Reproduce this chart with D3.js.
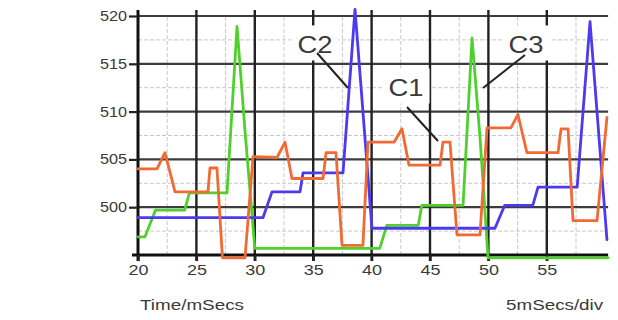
<!DOCTYPE html>
<html><head><meta charset="utf-8">
<script src="https://cdn.jsdelivr.net/npm/d3@7"></script>
<style>
html,body{margin:0;padding:0;background:#fff;}
svg{display:block;}
text{font-family:"Liberation Sans",Arial,sans-serif;fill:#3a3a3a;}
</style></head>
<body><svg id="c" width="618" height="320"></svg>
<script>
// ---- data ----
const xTicks = [20, 25, 30, 35, 40, 45, 50, 55];
const yTicks = [500, 505, 510, 515, 520];
const xTitle = "Time/mSecs";
const xScaleNote = "5mSecs/div";

// C1 (orange)
const c1Time  = [20, 21.63, 22.31, 23.17, 25.99, 26.16, 26.76, 27.23, 29.16, 29.85, 31.9, 32.59, 33.18, 35.84, 36.1, 36.95, 37.47, 39.26, 39.69, 41.92, 42.6, 43.2, 45.86, 46.11, 46.71, 47.31, 49.28, 49.88, 51.93, 52.53, 53.3, 55.96, 56.22, 56.82, 57.24, 59.3, 60.15];
const c1Value = [504.0, 504.0, 505.7, 501.6, 501.6, 504.1, 504.1, 494.7, 494.7, 505.3, 505.2, 506.8, 503.0, 503.0, 505.7, 505.7, 496.0, 496.0, 506.8, 506.8, 508.2, 504.4, 504.4, 506.8, 506.8, 497.1, 497.1, 508.3, 508.3, 509.7, 505.7, 505.7, 508.2, 508.2, 498.6, 498.6, 509.4];

// C2 (blue)
const c2Time  = [20, 30.7, 31.47, 33.87, 34.13, 37.55, 38.58, 40.03, 50.56, 51.4, 53.8, 54.25, 57.6, 58.7, 60.15];
const c2Value = [498.9, 498.9, 501.6, 501.6, 503.6, 503.6, 520.7, 497.8, 497.8, 500.2, 500.2, 502.1, 502.1, 519.4, 496.6];

// C3 (green)
const c3Time  = [20, 20.6, 21.5, 24.0, 24.4, 27.62, 28.48, 29.16, 30.0, 40.7, 41.3, 44.0, 44.3, 47.83, 48.6, 49.3, 49.97, 60.25];
const c3Value = [496.9, 496.9, 499.7, 499.7, 501.5, 501.5, 518.9, 508.0, 495.7, 495.7, 498.1, 498.1, 500.2, 500.2, 517.7, 507.0, 494.7, 494.7];

// annotations
const labelNames  = ["C2", "C1", "C3"];
const labelTime   = [35.15, 42.95, 53.22];
const labelValue  = [516.97, 512.47, 516.97];
const arrowFromT  = [35.33, 43.03, 53.13];
const arrowFromV  = [516.13, 510.48, 515.92];
const arrowToT    = [37.98, 45.68, 49.54];
const arrowToV    = [512.47, 506.92, 512.47];

// ---- drawing ----
const svg = d3.select("#c");
const xMin = 20, xMax = 60.25, yMin = 495, yMax = 520;
const x = d3.scaleLinear().domain([20, 55]).range([138, 546.8]);
const y = d3.scaleLinear().domain([495, 520]).range([255, 16]);

const seriesColors = ["#f26a33", "#4b3af0", "#4fd02c"];

// light dashed grid
const halfX = d3.range(22.5, xMax, 5);
const halfY = d3.range(497.5, yMax, 5);
const grid = svg.append("g");
grid.selectAll("line.hx").data(halfY).join("line")
  .attr("x1", x(xMin)).attr("x2", x(xMax))
  .attr("y1", d => y(d)).attr("y2", d => y(d))
  .attr("stroke", "#c8c8c8").attr("stroke-width", 1).attr("stroke-dasharray", "4,2");
grid.selectAll("line.vx").data(halfX).join("line")
  .attr("y1", y(yMin)).attr("y2", y(yMax))
  .attr("x1", d => x(d)).attr("x2", d => x(d))
  .attr("stroke", "#c8c8c8").attr("stroke-width", 1).attr("stroke-dasharray", "4,2");

// major horizontal lines
grid.selectAll("line.mh").data(yTicks).join("line")
  .attr("x1", x(xMin)).attr("x2", x(xMax))
  .attr("y1", d => y(d)).attr("y2", d => y(d))
  .attr("stroke", "#3c3c3c").attr("stroke-width", 2.2);
// major vertical lines (extend as ticks above and below)
grid.selectAll("line.mv").data(xTicks.slice(1)).join("line")
  .attr("x1", d => x(d)).attr("x2", d => x(d))
  .attr("y1", y(yMax) - 6).attr("y2", y(yMin) + 6)
  .attr("stroke", "#222").attr("stroke-width", 2.4);

// axes
const yAxis = d3.axisLeft(y).tickValues(yTicks).tickSize(9).tickPadding(2).tickFormat(d3.format("d"));
const gy = svg.append("g").attr("transform", `translate(${x(xMin)},0)`).call(yAxis);
gy.select(".domain").attr("stroke", "#111").attr("stroke-width", 3)
  .attr("d", `M0,${y(yMin) + 6}V${y(yMax) - 6}`);
gy.selectAll(".tick line").attr("stroke", "#222").attr("stroke-width", 2.2);
gy.selectAll(".tick text").attr("font-size", 14).attr("fill", "#3a3a3a")
  .attr("textLength", 27).attr("lengthAdjust", "spacingAndGlyphs")
  .attr("font-family", "Liberation Sans, Arial, sans-serif");

const xAxis = d3.axisBottom(x).tickValues(xTicks).tickSize(6).tickPadding(4).tickFormat(d3.format("d"));
const gx = svg.append("g").attr("transform", `translate(0,${y(yMin)})`).call(xAxis);
gx.select(".domain").attr("stroke", "#111").attr("stroke-width", 3)
  .attr("d", `M${x(xMin) - 6},0H${x(xMax)}`);
gx.selectAll(".tick line").attr("stroke", "#222").attr("stroke-width", 2.4);
gx.selectAll(".tick text").attr("font-size", 14).attr("fill", "#3a3a3a")
  .attr("textLength", 20).attr("lengthAdjust", "spacingAndGlyphs")
  .attr("font-family", "Liberation Sans, Arial, sans-serif");

// series
const line = d3.line().x(d => x(d[0])).y(d => y(d[1]));
const series = [
  d3.zip(c3Time, c3Value),
  d3.zip(c2Time, c2Value),
  d3.zip(c1Time, c1Value)
];
const colorsInOrder = [seriesColors[2], seriesColors[1], seriesColors[0]];
svg.append("g").selectAll("path").data(series).join("path")
  .attr("d", line)
  .attr("fill", "none")
  .attr("stroke", (d, i) => colorsInOrder[i])
  .attr("stroke-width", 2.8)
  .attr("stroke-linejoin", "round")
  .attr("stroke-linecap", "round");

// annotation labels with white backing
const ann = svg.append("g");
labelNames.forEach((name, i) => {
  const g = ann.append("g");
  const rect = g.append("rect").attr("fill", "#fff");
  const t = g.append("text")
    .attr("x", x(labelTime[i])).attr("y", y(labelValue[i]))
    .attr("text-anchor", "middle").attr("dominant-baseline", "central")
    .attr("font-size", 24).attr("fill", "#333")
    .attr("textLength", 35).attr("lengthAdjust", "spacingAndGlyphs")
    .text(name);
  const bb = t.node().getBBox();
  rect.attr("x", bb.x - 6).attr("y", bb.y - 6).attr("width", bb.width + 12).attr("height", bb.height + 8);
  g.append("line")
    .attr("x1", x(arrowFromT[i])).attr("y1", y(arrowFromV[i]))
    .attr("x2", x(arrowToT[i])).attr("y2", y(arrowToV[i]))
    .attr("stroke", "#222").attr("stroke-width", 2);
});

// axis titles
svg.append("text").attr("x", 140).attr("y", 310)
  .attr("font-size", 14).attr("fill", "#3a3a3a")
  .attr("textLength", 104).attr("lengthAdjust", "spacingAndGlyphs")
  .text(xTitle);
svg.append("text").attr("x", x(xMax) - 5).attr("y", 310)
  .attr("text-anchor", "end")
  .attr("font-size", 14).attr("fill", "#3a3a3a")
  .attr("textLength", 97).attr("lengthAdjust", "spacingAndGlyphs")
  .text(xScaleNote);
</script>
</body></html>
